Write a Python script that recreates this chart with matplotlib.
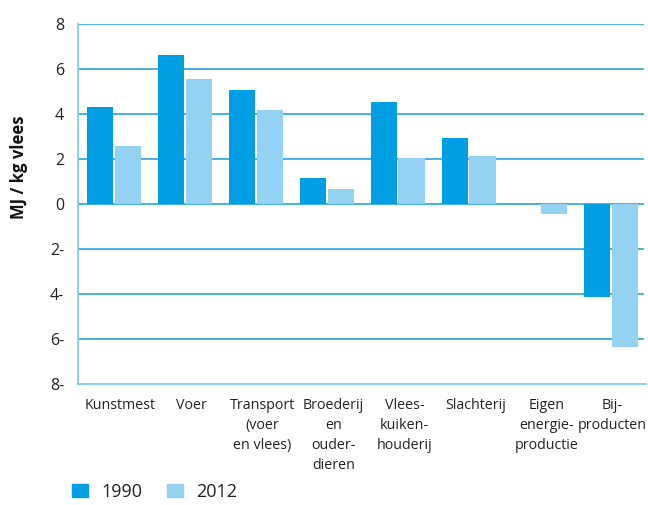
import numpy as np
from matplotlib import pyplot as plt
from matplotlib.patches import Patch
from matplotlib.transforms import ScaledTranslation

categories = ["Kunstmest", "Voer", "Transport\n(voer\nen vlees)", "Broederij\nen\nouder-\ndieren",
              "Vlees-\nkuiken-\nhouderij", "Slachterij", "Eigen\nenergie-\nproductie", "Bij-\nproducten"]
v1990 = [4.31, 6.62, 5.07, 1.16, 4.53, 2.93, 0.0, -4.12]
v2012 = [2.58, 5.56, 4.18, 0.67, 2.04, 2.13, -0.43, -6.34]
yticks = [8, 6, 4, 2, 0, -2, -4, -6, -8]
ytick_labels = ["8", "6", "4", "2", "0", "2-", "4-", "6-", "8-"]

c1990 = "#009fe3"
c2012 = "#94d2f3"
grid_col = "#27a4df"
spine_col = "#7fcdf1"

plt.rcParams["font.family"] = ["Open Sans", "DejaVu Sans"]

fig = plt.figure(figsize=(6.48, 5.05), dpi=100)
ax = fig.add_axes([78 / 648, 1 - 384 / 505, 568 / 648, 360 / 505])

x = np.arange(len(categories))
w = 26 / 71
off = 14 / 71
ax.bar(x - off, v1990, width=w, color=c1990, zorder=3)
ax.bar(x + off, v2012, width=w, color=c2012, zorder=3)

ax.set_xlim(-0.5, len(categories) - 0.5)
ax.set_ylim(-8, 8)
ax.set_yticks(yticks)
ax.set_yticklabels(ytick_labels, fontsize=11.5, color="#222222")
ax.tick_params(axis="y", length=0, pad=10)
ax.set_xticks(x)
ax.set_xticklabels(categories, fontsize=10.3, color="#222222", linespacing=1.45, va="top")
ax.tick_params(axis="x", length=0, pad=10)
# labels sit a little right of the group centres in the reference
for i, lab in enumerate(ax.get_xticklabels()):
    dx = 2 if i == len(categories) - 1 else 7
    lab.set_transform(lab.get_transform() + ScaledTranslation(dx / 100, 0, fig.dpi_scale_trans))

for y in yticks[:-1]:
    ax.axhline(y, color=grid_col, lw=1.2, xmax=0.995, zorder=1)
for s in ["top", "right"]:
    ax.spines[s].set_visible(False)
ax.spines["left"].set_color(spine_col)
ax.spines["bottom"].set_color(spine_col)
ax.spines["left"].set_linewidth(1.3)
ax.spines["bottom"].set_linewidth(1.3)

fig.text(19 / 648, 1 - 167 / 505, "MJ / kg vlees", rotation=90, fontsize=12, fontweight="bold",
         ha="center", va="center", color="#111111")

handles = [Patch(color=c1990, label="1990"), Patch(color=c2012, label="2012")]
fig.legend(handles=handles, loc="lower left", bbox_to_anchor=(56 / 648, -12 / 505), ncol=2, frameon=False,
           fontsize=13, handlelength=0.85, handleheight=0.75, handletextpad=0.75, columnspacing=1.4,
           labelcolor="#222222")

fig.savefig("out.png", dpi=100)
